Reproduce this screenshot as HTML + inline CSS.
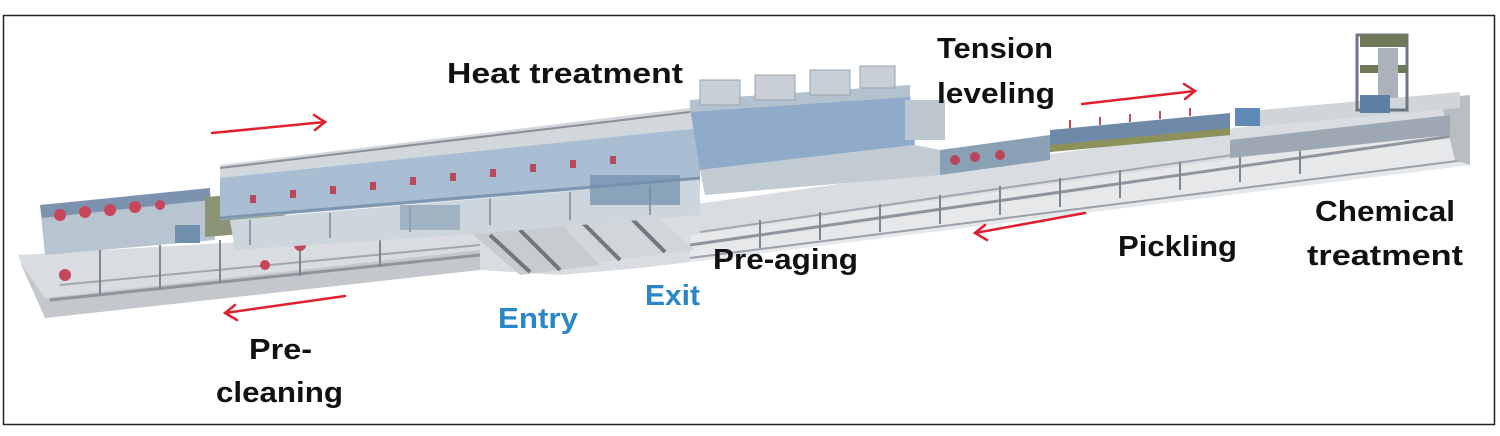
<!DOCTYPE html>
<html><head><meta charset="utf-8"><style>
html,body{margin:0;padding:0;background:#fff;width:1500px;height:436px;overflow:hidden}
svg{display:block}
text{font-family:"Liberation Sans Narrow","Liberation Sans",sans-serif;font-weight:bold;font-size:29px}
</style></head><body>
<svg width="1500" height="436" viewBox="0 0 1500 436" xmlns="http://www.w3.org/2000/svg">
<rect x="0" y="0" width="1500" height="436" fill="#fff"/>
<rect x="3.5" y="15.5" width="1491" height="409" fill="none" stroke="#222" stroke-width="1.5"/>

<!-- base slab -->
<polygon points="18,255 480,228 690,205 1470,95 1470,165 690,262 640,268 560,275 480,270 45,318" fill="#d9dde1"/>
<polygon points="20,262 45,318 480,270 480,250 45,298" fill="#c4c8cc"/>
<polygon points="690,235 1470,125 1470,165 690,262" fill="#e6e8ea"/>
<polyline points="50,300 480,255" stroke="#8e959c" stroke-width="3" fill="none"/>
<polyline points="60,285 480,245" stroke="#a0a7ae" stroke-width="2" fill="none"/>
<polyline points="690,245 1460,135" stroke="#8e959c" stroke-width="3" fill="none"/>
<polyline points="700,232 1460,122" stroke="#a0a7ae" stroke-width="2" fill="none"/>
<polyline points="690,258 1465,160" stroke="#9aa1a8" stroke-width="2" fill="none"/>
<polygon points="1440,98 1470,95 1470,165 1455,160" fill="#b9bec3"/>
<g stroke="#7e868e" stroke-width="2">
<line x1="760" y1="220" x2="760" y2="248"/><line x1="820" y1="212" x2="820" y2="240"/><line x1="880" y1="204" x2="880" y2="232"/><line x1="940" y1="195" x2="940" y2="224"/><line x1="1000" y1="186" x2="1000" y2="215"/><line x1="1060" y1="178" x2="1060" y2="207"/><line x1="1120" y1="170" x2="1120" y2="198"/><line x1="1180" y1="162" x2="1180" y2="190"/><line x1="1240" y1="155" x2="1240" y2="182"/><line x1="1300" y1="147" x2="1300" y2="174"/>
<line x1="100" y1="250" x2="100" y2="295"/><line x1="160" y1="245" x2="160" y2="290"/><line x1="220" y1="240" x2="220" y2="283"/><line x1="300" y1="235" x2="300" y2="276"/><line x1="380" y1="230" x2="380" y2="267"/>
</g>
<polygon points="470,232 560,222 600,265 520,275" fill="#c8ccd0"/>
<polygon points="560,222 650,210 695,250 600,262" fill="#d2d6da"/>
<g stroke="#70787f" stroke-width="4"><line x1="490" y1="235" x2="530" y2="272"/><line x1="520" y1="230" x2="560" y2="270"/><line x1="580" y1="220" x2="620" y2="260"/><line x1="625" y1="212" x2="665" y2="252"/></g>

<!-- left machinery -->
<polygon points="40,205 210,190 215,240 45,255" fill="#b8c4d0"/>
<polygon points="40,205 210,188 210,200 42,218" fill="#7c93b0"/>
<g fill="#c6465a"><circle cx="60" cy="215" r="6"/><circle cx="85" cy="212" r="6"/><circle cx="110" cy="210" r="6"/><circle cx="135" cy="207" r="6"/><circle cx="160" cy="205" r="5"/><circle cx="65" cy="275" r="6"/><circle cx="265" cy="265" r="5"/><circle cx="300" cy="245" r="6"/><circle cx="425" cy="225" r="6"/></g>
<rect x="205" y="215" width="80" height="40" fill="#8c9478" transform="skewY(-5)"/>
<rect x="175" y="225" width="25" height="18" fill="#6f8fad"/>

<!-- heat treatment furnace -->
<polygon points="220,175 700,128 700,180 220,220" fill="#a9bdd3"/>
<polygon points="220,165 690,108 700,128 220,178" fill="#d2d7dc"/>
<polyline points="220,168 690,112" stroke="#8a9096" stroke-width="2" fill="none"/>
<polyline points="220,218 700,178" stroke="#7f96b0" stroke-width="3" fill="none"/>
<g fill="#b84a5e"><rect x="250" y="195" width="6" height="8"/><rect x="290" y="190" width="6" height="8"/><rect x="330" y="186" width="6" height="8"/><rect x="370" y="182" width="6" height="8"/><rect x="410" y="177" width="6" height="8"/><rect x="450" y="173" width="6" height="8"/><rect x="490" y="169" width="6" height="8"/><rect x="530" y="164" width="6" height="8"/><rect x="570" y="160" width="6" height="8"/><rect x="610" y="156" width="6" height="8"/></g>
<polygon points="230,220 700,180 700,215 460,235 235,250" fill="#cdd5dd"/>
<g stroke="#8c9aa8" stroke-width="2"><line x1="250" y1="220" x2="250" y2="245"/><line x1="330" y1="213" x2="330" y2="238"/><line x1="410" y1="206" x2="410" y2="232"/><line x1="490" y1="199" x2="490" y2="225"/><line x1="570" y1="192" x2="570" y2="220"/><line x1="650" y1="185" x2="650" y2="215"/></g>
<rect x="590" y="175" width="90" height="30" fill="#6f8fad" opacity=".7"/>
<rect x="400" y="205" width="60" height="25" fill="#8ea2b8" opacity=".7"/>

<!-- right furnace with ducts -->
<polygon points="690,108 910,95 915,145 700,170" fill="#8fabc9"/>
<polygon points="690,100 910,85 910,97 690,112" fill="#b4c2cf"/>
<g fill="#c8cfd6" stroke="#9aa3ac"><rect x="700" y="80" width="40" height="25"/><rect x="755" y="75" width="40" height="25"/><rect x="810" y="70" width="40" height="25"/><rect x="860" y="66" width="35" height="22"/></g>
<polygon points="700,170 915,145 940,150 940,175 705,195" fill="#c2cad2"/>
<rect x="905" y="100" width="40" height="40" fill="#bcc6cf"/>
<polygon points="940,150 1050,135 1050,160 940,175" fill="#8aa0b5"/>
<g fill="#b8465a"><circle cx="955" cy="160" r="5"/><circle cx="975" cy="157" r="5"/><circle cx="1000" cy="155" r="5"/><circle cx="1240" cy="150" r="7"/><circle cx="1260" cy="147" r="7"/><circle cx="1280" cy="145" r="6"/></g>
<polygon points="1050,130 1230,113 1230,135 1050,152" fill="#6f8aa8"/>
<polygon points="1050,145 1230,128 1230,135 1050,152" fill="#8c915a"/>
<g stroke="#c14a5e" stroke-width="2"><line x1="1070" y1="128" x2="1070" y2="120"/><line x1="1100" y1="125" x2="1100" y2="117"/><line x1="1130" y1="122" x2="1130" y2="114"/><line x1="1160" y1="119" x2="1160" y2="111"/><line x1="1190" y1="116" x2="1190" y2="108"/></g>
<rect x="1235" y="108" width="25" height="18" fill="#5e8ab8"/>
<polygon points="1260,110 1460,92 1460,108 1260,126" fill="#d0d5da"/>
<polygon points="1230,140 1450,115 1450,135 1230,158" fill="#9ea8b2"/>
<rect x="1357" y="35" width="50" height="75" fill="none" stroke="#6e7780" stroke-width="3"/>
<rect x="1360" y="35" width="47" height="12" fill="#6c7a5a"/>
<rect x="1360" y="65" width="47" height="8" fill="#6c7a5a"/>
<rect x="1378" y="48" width="20" height="50" fill="#aab2ba"/>
<rect x="1360" y="95" width="30" height="18" fill="#5e7fa6"/>

<g stroke="#e0202f" stroke-width="2.5" fill="none" stroke-linecap="round">
<line x1="212" y1="133" x2="325" y2="122"/><polyline points="314,115 325,122 315,130"/>
<line x1="345" y1="296" x2="225" y2="313"/><polyline points="235,305 225,313 237,320"/>
<line x1="1082" y1="104" x2="1195" y2="91"/><polyline points="1184,84 1195,91 1185,99"/>
<line x1="1085" y1="213" x2="975" y2="233"/><polyline points="985,225 975,233 987,240"/>
</g>

<g fill="#111">
<text x="447" y="83" textLength="236" lengthAdjust="spacingAndGlyphs">Heat treatment</text>
<text x="937" y="58" textLength="116" lengthAdjust="spacingAndGlyphs">Tension</text>
<text x="937" y="103" textLength="118" lengthAdjust="spacingAndGlyphs">leveling</text>
<text x="1315" y="221" textLength="140" lengthAdjust="spacingAndGlyphs">Chemical</text>
<text x="1307" y="265" textLength="156" lengthAdjust="spacingAndGlyphs">treatment</text>
<text x="1118" y="256" textLength="119" lengthAdjust="spacingAndGlyphs">Pickling</text>
<text x="713" y="269" textLength="145" lengthAdjust="spacingAndGlyphs">Pre-aging</text>
<text x="249" y="359" textLength="63" lengthAdjust="spacingAndGlyphs">Pre-</text>
<text x="216" y="402" textLength="127" lengthAdjust="spacingAndGlyphs">cleaning</text>
</g>
<g fill="#2a86c4">
<text x="645" y="305" textLength="55" lengthAdjust="spacingAndGlyphs">Exit</text>
<text x="498" y="328" textLength="80" lengthAdjust="spacingAndGlyphs">Entry</text>
</g>
</svg>
</body></html>
